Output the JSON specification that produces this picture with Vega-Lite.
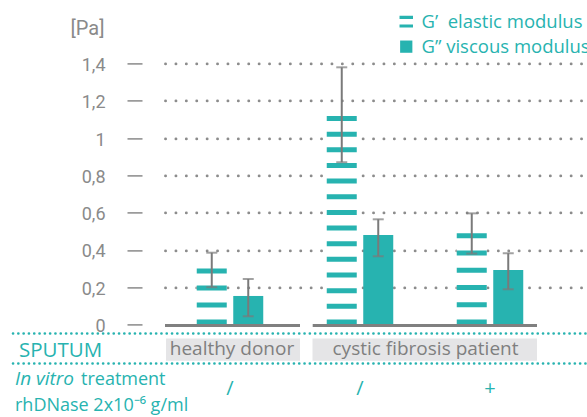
{
  "$schema": "https://vega.github.io/schema/vega-lite/v6.json",
  "autosize": {"type": "none"},
  "padding": {"left": 165, "top": 63.4, "right": 0, "bottom": 92.5},
  "width": 422,
  "height": 261.1,
  "background": "white",
  "config": {"view": {"stroke": null}, "font": "Open Sans"},
  "datasets": {
    "moduli": [
      {"group": "healthy donor /", "sputum": "healthy donor", "treatment": "/", "modulus": "G'", "value": 0.300, "low": 0.200, "high": 0.385},
      {"group": "healthy donor /", "sputum": "healthy donor", "treatment": "/", "modulus": "G''", "value": 0.153, "low": 0.044, "high": 0.244},
      {"group": "cystic fibrosis patient /", "sputum": "cystic fibrosis patient", "treatment": "/", "modulus": "G'", "value": 1.118, "low": 0.870, "high": 1.379},
      {"group": "cystic fibrosis patient /", "sputum": "cystic fibrosis patient", "treatment": "/", "modulus": "G''", "value": 0.480, "low": 0.366, "high": 0.564},
      {"group": "cystic fibrosis patient +", "sputum": "cystic fibrosis patient", "treatment": "+", "modulus": "G'", "value": 0.489, "low": 0.380, "high": 0.596},
      {"group": "cystic fibrosis patient +", "sputum": "cystic fibrosis patient", "treatment": "+", "modulus": "G''", "value": 0.292, "low": 0.189, "high": 0.382}
    ],
    "sputum": [
      {"sputum": "healthy donor", "first": "healthy donor /", "last": "healthy donor /"},
      {"sputum": "cystic fibrosis patient", "first": "cystic fibrosis patient /", "last": "cystic fibrosis patient +"}
    ],
    "headers": [
      {"header": "SPUTUM"},
      {"header": "In vitro treatment"},
      {"header": "rhDNase 2x10⁻⁶ g/ml"}
    ]
  },
  "layer": [
    {
      "data": {"name": "moduli"},
      "transform": [{"filter": "datum.modulus === \"G'\""}],
      "mark": {"type": "bar", "color": "white"},
      "encoding": {
        "x": {
          "field": "group", "type": "nominal", "title": null, "sort": null,
          "scale": {"domain": ["healthy donor /", "cystic fibrosis patient /", "cystic fibrosis patient +"], "paddingInner": 0, "paddingOuter": 0.12308, "align": 0},
          "axis": {"orient": "bottom", "title": null, "domain": false, "ticks": false, "tickSize": 0, "labelPadding": 63.5, "labelBaseline": "middle", "labelAngle": 0, "labelExpr": "slice(datum.label, -1)", "labelFont": "Open Sans", "labelFontSize": 20, "labelColor": "#27b3b0"}
        },
        "xOffset": {"field": "modulus", "type": "nominal", "scale": {"domain": ["G'", "G''"], "paddingInner": 0.178, "paddingOuter": 0.87}},
        "y": {
          "field": "value", "type": "quantitative",
          "scale": {"domain": [0, 1.4], "nice": false, "zero": true},
          "axis": {
            "title": "[Pa]", "titleAngle": 0, "titleAlign": "right", "titleBaseline": "alphabetic", "titleX": -38, "titleY": -29.4,
            "titleFont": "Roboto", "titleFontSize": 20, "titleFontWeight": "normal", "titleColor": "#8a8a8a",
            "values": [0, 0.2, 0.4, 0.6, 0.8, 1, 1.2, 1.4], "tickCount": 20, "labelOverlap": false,
            "labelExpr": "replace(format(datum.value, '~g'), '.', ',')",
            "labelFont": "Roboto", "labelFontSize": 18, "labelColor": "#8a8a8a", "labelPadding": 22, "labelBaseline": "middle", "labelOffset": 2,
            "domain": false, "tickSize": 15, "tickColor": "#8a8a8a", "tickWidth": 1.5, "offset": 23,
            "grid": true, "gridDash": [0.1, 10.3], "gridCap": "round", "gridWidth": 2.8, "gridColor": "#8c8c8c",
            "gridOpacity": {"condition": {"test": "datum.value === 0", "value": 0}, "value": 1}
          }
        },
        "y2": {"datum": 0}
      }
    },
    {
      "data": {"name": "moduli"},
      "transform": [{"filter": "datum.modulus === \"G'\""}],
      "mark": {"type": "rule", "color": "#27b3b0", "strokeWidth": 30, "strokeCap": "butt"},
      "encoding": {
        "x": {"field": "group", "type": "nominal", "title": null},
        "xOffset": {"field": "modulus", "type": "nominal"},
        "y": {"field": "value", "type": "quantitative"},
        "y2": {"datum": 0},
        "strokeDash": {
          "field": "group", "type": "nominal", "legend": null,
          "scale": {"domain": ["healthy donor /", "cystic fibrosis patient /", "cystic fibrosis patient +"], "range": [[5, 11.98], [5, 10.65], [5, 12.24]]}
        }
      }
    },
    {
      "data": {"name": "moduli"},
      "transform": [{"filter": "datum.modulus === \"G''\""}],
      "mark": {"type": "bar", "color": "#27b3b0"},
      "encoding": {
        "x": {"field": "group", "type": "nominal", "title": null},
        "xOffset": {"field": "modulus", "type": "nominal"},
        "y": {"field": "value", "type": "quantitative"},
        "y2": {"datum": 0}
      }
    },
    {
      "data": {"name": "sputum"},
      "mark": {"type": "rule", "color": "#808080", "strokeWidth": 3, "yOffset": 1,
        "xOffset": {"expr": "datum.sputum === 'healthy donor' ? 0 : 17.7"},
        "x2Offset": {"expr": "datum.sputum === 'healthy donor' ? 5 : -18"}},
      "encoding": {
        "x": {"field": "first", "type": "nominal", "bandPosition": 0, "title": null},
        "x2": {"field": "last", "bandPosition": 1},
        "y": {"datum": 0, "type": "quantitative"}
      }
    },
    {
      "data": {"name": "moduli"},
      "mark": {"type": "rule", "color": "#7a7a7a", "strokeWidth": 2},
      "encoding": {
        "x": {"field": "group", "type": "nominal", "title": null},
        "xOffset": {"field": "modulus", "type": "nominal"},
        "y": {"field": "low", "type": "quantitative"},
        "y2": {"field": "high"}
      }
    },
    {
      "data": {"name": "moduli"},
      "mark": {"type": "tick", "color": "#7a7a7a", "size": 11, "thickness": 2, "orient": "horizontal"},
      "encoding": {
        "x": {"field": "group", "type": "nominal", "title": null},
        "xOffset": {"field": "modulus", "type": "nominal"},
        "y": {"field": "low", "type": "quantitative"}
      }
    },
    {
      "data": {"name": "moduli"},
      "mark": {"type": "tick", "color": "#7a7a7a", "size": 11, "thickness": 2, "orient": "horizontal"},
      "encoding": {
        "x": {"field": "group", "type": "nominal", "title": null},
        "xOffset": {"field": "modulus", "type": "nominal"},
        "y": {"field": "high", "type": "quantitative"}
      }
    },
    {
      "data": {"name": "sputum"},
      "mark": {"type": "rect", "color": "#e5e5e7",
        "xOffset": {"expr": "datum.sputum === 'healthy donor' ? 1 : 17.5"},
        "x2Offset": {"expr": "datum.sputum === 'healthy donor' ? 5 : -18"}},
      "encoding": {
        "x": {"field": "first", "type": "nominal", "bandPosition": 0, "title": null},
        "x2": {"field": "last", "bandPosition": 1},
        "y": {"datum": -0.0745, "type": "quantitative"},
        "y2": {"datum": -0.1946}
      }
    },
    {
      "data": {"name": "sputum"},
      "mark": {"type": "text", "font": "Open Sans", "fontSize": 19, "color": "#7f7f7f", "align": "center", "baseline": "alphabetic",
        "dx": {"expr": "datum.sputum === 'healthy donor' ? 67 : 0.5"}},
      "encoding": {
        "x": {"field": "last", "type": "nominal", "bandPosition": 0, "title": null},
        "y": {"datum": -0.1662, "type": "quantitative"},
        "text": {"field": "sputum"}
      }
    },
    {
      "data": {"name": "headers"},
      "transform": [{"filter": "datum.header === 'SPUTUM'"}],
      "mark": {"type": "rule", "color": "#27b3b0", "strokeWidth": 2.6, "strokeDash": [0.1, 5.2], "strokeCap": "round", "xOffset": -152, "x2Offset": 32},
      "encoding": {
        "x": {"datum": "healthy donor /", "type": "nominal", "bandPosition": 0},
        "x2": {"datum": "cystic fibrosis patient +", "bandPosition": 1},
        "y": {"datum": -0.0483, "type": "quantitative"}
      }
    },
    {
      "data": {"name": "headers"},
      "transform": [{"filter": "datum.header === 'In vitro treatment'"}],
      "mark": {"type": "rule", "color": "#27b3b0", "strokeWidth": 2.6, "strokeDash": [0.1, 5.2], "strokeCap": "round", "xOffset": -152, "x2Offset": 32},
      "encoding": {
        "x": {"datum": "healthy donor /", "type": "nominal", "bandPosition": 0},
        "x2": {"datum": "cystic fibrosis patient +", "bandPosition": 1},
        "y": {"datum": -0.2091, "type": "quantitative"}
      }
    },
    {
      "data": {"name": "headers"},
      "transform": [{"filter": "datum.header === 'SPUTUM'"}],
      "mark": {"type": "text", "font": "Open Sans", "fontSize": 20.5, "color": "#27b3b0", "align": "left", "baseline": "alphabetic", "dx": -146},
      "encoding": {
        "x": {"datum": "healthy donor /", "type": "nominal", "bandPosition": 0},
        "y": {"datum": -0.1727, "type": "quantitative"},
        "text": {"field": "header"}
      }
    },
    {
      "data": {"name": "headers"},
      "transform": [{"filter": "datum.header === 'In vitro treatment'"}],
      "mark": {"type": "text", "font": "Open Sans", "fontSize": 19, "fontStyle": "italic", "color": "#27b3b0", "align": "left", "baseline": "alphabetic", "dx": -150, "text": "In vitro"},
      "encoding": {
        "x": {"datum": "healthy donor /", "type": "nominal", "bandPosition": 0},
        "y": {"datum": -0.3244, "type": "quantitative"}
      }
    },
    {
      "data": {"name": "headers"},
      "transform": [{"filter": "datum.header === 'In vitro treatment'"}],
      "mark": {"type": "text", "font": "Open Sans", "fontSize": 18, "color": "#27b3b0", "align": "left", "baseline": "alphabetic", "dx": -84, "text": "treatment"},
      "encoding": {
        "x": {"datum": "healthy donor /", "type": "nominal", "bandPosition": 0},
        "y": {"datum": -0.3244, "type": "quantitative"}
      }
    },
    {
      "data": {"name": "headers"},
      "transform": [{"filter": "indexof(datum.header, 'rhDNase') === 0"}],
      "mark": {"type": "text", "font": "Open Sans", "fontSize": 18, "color": "#27b3b0", "align": "left", "baseline": "alphabetic", "dx": -150},
      "encoding": {
        "x": {"datum": "healthy donor /", "type": "nominal", "bandPosition": 0},
        "y": {"datum": -0.4638, "type": "quantitative"},
        "text": {"field": "header"}
      }
    },
    {
      "data": {"name": "moduli"},
      "transform": [{"filter": "false"}],
      "mark": {"type": "point", "filled": true, "opacity": 1},
      "encoding": {
        "x": {"field": "group", "type": "nominal", "title": null},
        "xOffset": {"field": "modulus", "type": "nominal"},
        "y": {"field": "value", "type": "quantitative"},
        "color": {
          "field": "modulus", "type": "nominal",
          "scale": {"domain": ["G'", "G''"], "range": ["#27b3b0", "#27b3b0"]},
          "legend": {
            "orient": "none", "legendX": 232, "legendY": -51, "title": null, "padding": 0,
            "labelExpr": "datum.label === \"G'\" ? 'G’\u00a0 elastic modulus' : 'G” viscous modulus'",
            "labelFont": "Open Sans", "labelFontSize": 18.5, "labelColor": "#27b3b0", "labelLimit": 400, "labelOffset": 6,
            "symbolSize": 150, "symbolOpacity": 1, "symbolStrokeWidth": 0, "symbolFillColor": "#27b3b0", "rowPadding": 6
          }
        },
        "shape": {
          "field": "modulus", "type": "nominal",
          "scale": {"domain": ["G'", "G''"], "range": ["M-1.1,-0.95H1.1V-0.45H-1.1Z M-1.1,0.45H1.1V0.95H-1.1Z", "square"]}
        }
      }
    }
  ]
}
